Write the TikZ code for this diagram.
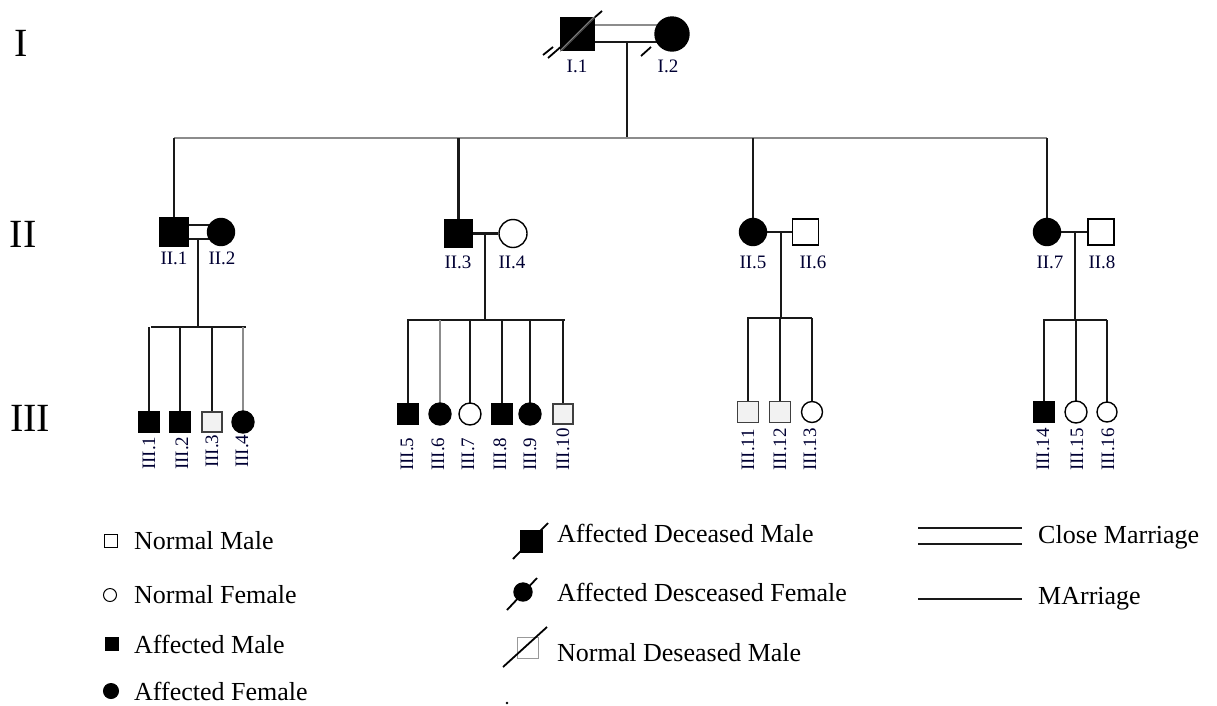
\documentclass[tikz,border=0pt]{standalone}
\usepackage{fontspec}
\setmainfont{Liberation Serif}
\pgfdeclarelayer{bg}
\pgfsetlayers{bg,main}
\begin{document}
\begin{tikzpicture}[x=1pt,y=-1pt]
\tikzset{
 ind/.style={draw=black, line width=1.4pt, inner sep=0pt},
 male/.style={ind, rectangle, minimum size=#1},
 female/.style={ind, circle, minimum size=#1},
 aff/.style={fill=black},
 nrm/.style={fill=white},
 nrmg/.style={fill=black!5, draw=black!75},
 lbl/.style={font=\fontsize{19}{21}\selectfont, inner sep=0pt, text=black!80!blue},
 rlbl/.style={lbl, rotate=90, anchor=west},
 gen/.style={font=\fontsize{40}{44}\selectfont, inner sep=0pt},
 leg/.style={font=\fontsize{26}{28}\selectfont, inner sep=0pt, anchor=west},
 ln/.style={line width=2.1pt, black!90},
 lng/.style={line width=2.1pt, black!45},
}
\useasboundingbox (0,0) rectangle (1217,705);

% generation labels
\node[gen] (gI) at (21,43) {I};
\node[gen] (gII) at (23,234) {II};
\node[gen] (gIII) at (30,418) {III};

% generation I
\node[male=33, aff] (I1) at (577.5,34) {};
\node[female=34, aff] (I2) at (672,34) {};
\node[lbl] (lI1) at (577,66) {I.1};
\node[lbl] (lI2) at (668,66) {I.2};
\coordinate (mI) at (627,42);
\coordinate (sI) at (627,138);

% generation II
\node[male=28, aff] (ii1) at (174,232) {};
\node[female=27, aff] (ii2) at (221,232) {};
\node[male=27, aff] (ii3) at (458.5,233.5) {};
\node[female=28, nrm] (ii4) at (513,233.5) {};
\node[female=27, aff] (ii5) at (753,232) {};
\node[male=26, nrm] (ii6) at (805.5,232) {};
\node[female=27, aff] (ii7) at (1047,232) {};
\node[male=26, nrm] (ii8) at (1101,232) {};
\node[lbl] (lii1) at (174,258) {II.1};
\node[lbl] (lii2) at (222,258) {II.2};
\node[lbl] (lii3) at (458,262) {II.3};
\node[lbl] (lii4) at (512,262) {II.4};
\node[lbl] (lii5) at (753,262) {II.5};
\node[lbl] (lii6) at (813,262) {II.6};
\node[lbl] (lii7) at (1050,262) {II.7};
\node[lbl] (lii8) at (1102,262) {II.8};
\coordinate (m1) at (198,239);
\coordinate (s1) at (198,327);
\coordinate (m2) at (485,233.5);
\coordinate (s2) at (485,320);
\coordinate (m3) at (781,232);
\coordinate (s3) at (781,318);
\coordinate (m4) at (1075,232);
\coordinate (s4) at (1075,320);

% generation III
\node[male=21, aff] (iii1) at (149,422) {};
\node[male=21, aff] (iii2) at (180,422) {};
\node[male=20, nrmg] (iii3) at (212,422) {};
\node[female=22, aff] (iii4) at (243,422) {};
\node[male=21, aff] (iii5) at (408,414) {};
\node[female=22, aff] (iii6) at (440,414) {};
\node[female=22, nrm] (iii7) at (470,414) {};
\node[male=21, aff] (iii8) at (502,414) {};
\node[female=22, aff] (iii9) at (530,414) {};
\node[male=20, nrmg] (iii10) at (563,414) {};
\node[male=21, nrmg] (iii11) at (748,412) {};
\node[male=21, nrmg] (iii12) at (780,412) {};
\node[female=21, nrm] (iii13) at (812,412) {};
\node[male=20, aff] (iii14) at (1044,412) {};
\node[female=22, nrm] (iii15) at (1076,412) {};
\node[female=20, nrm] (iii16) at (1107,412) {};

\node[rlbl] (liii1) at (149,470) {III.1};
\node[rlbl] (liii2) at (182,470) {III.2};
\node[rlbl] (liii3) at (212,468) {III.3};
\node[rlbl] (liii4) at (242,468) {III.4};
\node[rlbl] (liii5) at (407,471) {III.5};
\node[rlbl] (liii6) at (438,471) {III.6};
\node[rlbl] (liii7) at (468,471) {III.7};
\node[rlbl] (liii8) at (500,471) {III.8};
\node[rlbl] (liii9) at (530,471) {III.9};
\node[rlbl] (liii10) at (563,471) {III.10};
\node[rlbl] (liii11) at (748,471) {III.11};
\node[rlbl] (liii12) at (780,471) {III.12};
\node[rlbl] (liii13) at (810,471) {III.13};
\node[rlbl] (liii14) at (1043,471) {III.14};
\node[rlbl] (liii15) at (1077,471) {III.15};
\node[rlbl] (liii16) at (1108,471) {III.16};

\begin{pgfonlayer}{bg}
 \fill[white] (0,0) rectangle (1217,705);
 % I marriage (close)
 \draw[lng] ([yshift=9pt]I1.center) -- ([yshift=9pt]I2.center);
 \draw[ln] ([yshift=-8pt]I1.center) -- ([yshift=-8pt]I2.center);
 \draw[ln] (mI) -- (sI);
 \draw[lng] (ii1 |- sI) -- (ii7 |- sI);
 \foreach \n in {ii1,ii3,ii5,ii7} \draw[ln] (\n.center) -- (\n |- sI);
 % II marriages
 \draw[ln] ([yshift=7pt]ii1.center) -- ([yshift=7pt]ii2.center);
 \draw[ln] ([yshift=-7pt]ii1.center) -- ([yshift=-7pt]ii2.center);
 \draw[ln] (ii3) -- (ii4);
 \draw[ln] (ii5) -- (ii6);
 \draw[ln] (ii7) -- (ii8);
 \draw[ln] (m1) -- (s1);
 \draw[ln] (m2) -- (s2);
 \draw[ln] (m3) -- (s3);
 \draw[ln] (m4) -- (s4);
 % sibships III
 \draw[ln] ([xshift=2pt]iii1 |- s1) -- ([xshift=3pt]iii4 |- s1);
 \foreach \n in {iii1,iii2,iii3} \draw[ln] (\n.center) -- (\n |- s1);
 \draw[lng] (iii4.center) -- (iii4 |- s1);
 \draw[ln] ([xshift=-1pt]iii5 |- s2) -- ([xshift=2pt]iii10 |- s2);
 \foreach \n in {iii5,iii7,iii8,iii9,iii10} \draw[ln] (\n.center) -- (\n |- s2);
 \draw[lng] (iii6.center) -- (iii6 |- s2);
 \draw[ln] ([xshift=-1pt]iii11 |- s3) -- (iii13 |- s3);
 \foreach \n in {iii11,iii12,iii13} \draw[ln] (\n.center) -- (\n |- s3);
 \draw[ln] ([xshift=-1pt]iii14 |- s4) -- (iii16 |- s4);
 \foreach \n in {iii14,iii15,iii16} \draw[ln] (\n.center) -- (\n |- s4);
\end{pgfonlayer}

% deceased marks
\coordinate (dI1a) at (548,58);
\coordinate (dI1b) at (602,11);
\draw[line width=1.8pt] (dI1a) -- (dI1b);
\draw[line width=1.5pt, white] (I1.south west) -- (I1.north east);
\draw[line width=0.7pt, black] (I1.south west) -- (I1.north east);
\coordinate (dI1c) at (543,55);
\coordinate (dI1d) at (553,47);
\draw[line width=1.8pt] (dI1c) -- (dI1d);
\coordinate (dI2a) at (641,56);
\coordinate (dI2b) at (651,47);
\draw[line width=1.8pt] (dI2a) -- (dI2b);

% legend left
\node[male=13, nrm, line width=1pt] (kNM) at (111,541) {};
\node[leg] (tNM) at (134,541) {Normal Male};
\node[female=13, nrm, line width=1pt] (kNF) at (110,595) {};
\node[leg] (tNF) at (134,595) {Normal Female};
\node[male=13, aff, line width=1pt] (kAM) at (112,644) {};
\node[leg] (tAM) at (134,644) {Affected Male};
\node[female=15, aff, line width=1pt] (kAF) at (111,691) {};
\node[leg] (tAF) at (134,691) {Affected Female};

% legend middle
\node[male=21, aff] (kADM) at (531.5,541.5) {};
\coordinate (kADMa) at (513,559);
\coordinate (kADMb) at (548,523);
\draw[line width=1.8pt] (kADMa) -- (kADMb);
\node[leg] (tADM) at (557,533) {Affected Deceased Male};
\node[female=18, aff] (kADF) at (523,592) {};
\coordinate (kADFa) at (507,610);
\coordinate (kADFb) at (537,578);
\draw[line width=1.8pt] (kADFa) -- (kADFb);
\node[leg] (tADF) at (557,592) {Affected Desceased Female};
\node[male=21, draw=black!40, fill=white, line width=1pt] (kNDM) at (528,648) {};
\coordinate (kNDMa) at (503,667);
\coordinate (kNDMb) at (547,627);
\draw[line width=1.8pt] (kNDMa) -- (kNDMb);
\node[leg] (tNDM) at (557,653) {Normal Deseased Male};
\fill (507,703) circle (1.3);

% legend right
\coordinate (kCMa) at (918,528);
\coordinate (kCMb) at (1022,528);
\coordinate (kCMc) at (918,544);
\coordinate (kCMd) at (1022,544);
\draw[ln] (kCMa) -- (kCMb);
\draw[ln] (kCMc) -- (kCMd);
\node[leg] (tCM) at (1038,537) {Close Marriage};
\coordinate (kMa) at (918,599);
\coordinate (kMb) at (1022,599);
\draw[ln] (kMa) -- (kMb);
\node[leg] (tM) at (1038,599) {MArriage};
\end{tikzpicture}
\end{document}
